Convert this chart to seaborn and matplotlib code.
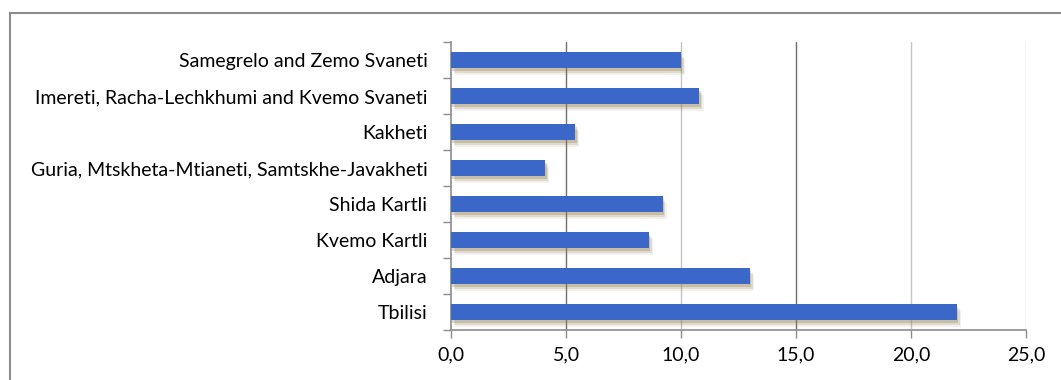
import matplotlib
matplotlib.use("Agg")
import matplotlib.pyplot as plt
import matplotlib.patheffects as pe
import seaborn as sns
import pandas as pd

regions = [
    "Samegrelo and Zemo Svaneti",
    "Imereti, Racha-Lechkhumi and Kvemo Svaneti",
    "Kakheti",
    "Guria, Mtskheta-Mtianeti, Samtskhe-Javakheti",
    "Shida Kartli",
    "Kvemo Kartli",
    "Adjara",
    "Tbilisi",
]
values = [10.0, 10.8, 5.4, 4.1, 9.2, 8.6, 13.0, 22.0]
x_ticks = [0, 5, 10, 15, 20, 25]
x_labels = ["0,0", "5,0", "10,0", "15,0", "20,0", "25,0"]

df = pd.DataFrame({"region": regions, "value": values})

sns.set_theme(style="white")
plt.rcParams["font.family"] = ["Lato", "DejaVu Sans"]

fig = plt.figure(figsize=(10.61, 3.80), dpi=100)
ax = fig.add_axes([451 / 1061, 1 - 330 / 380, (1026 - 451) / 1061, (330 - 42) / 380])

sns.barplot(data=df, x="value", y="region", orient="h", color="#3b67c9",
            width=0.45, saturation=1, ax=ax, zorder=3)

# soft drop shadow under each bar
shadow = [pe.SimplePatchShadow(offset=(dx, dy), shadow_rgbFace="#8f7f50", alpha=a)
          for dx, dy, a in [(1, -2, 0.30), (2, -3.5, 0.20), (3, -5, 0.10)]]
for bar in ax.patches:
    bar.set_linewidth(0)
    bar.set_path_effects(shadow + [pe.Normal()])

ax.set_xlim(0, 25)
ax.set_ylim(len(regions) - 0.5, -0.5)
ax.set_xticks(x_ticks)
ax.set_xticklabels(x_labels)
ax.set_xlabel("")
ax.set_ylabel("")

# vertical gridlines
grid_colors = {5: "#6e6e6e", 10: "#c4c4c4", 15: "#6e6e6e", 20: "#c4c4c4", 25: "#c4c4c4"}
for xv, c in grid_colors.items():
    ax.axvline(xv, color=c, lw=1, zorder=1)

for side in ["top", "right"]:
    ax.spines[side].set_visible(False)
for side in ["left", "bottom"]:
    ax.spines[side].set_color("#8c8c8c")
    ax.spines[side].set_linewidth(1.2)

# category boundary ticks on the y axis
ax.set_yticks(range(len(regions)))
ax.set_yticklabels(regions)
ax.set_yticks([i - 0.5 for i in range(len(regions) + 1)], minor=True)
ax.tick_params(axis="y", which="major", length=0, pad=17, labelsize=14, labelcolor="#000000")
ax.tick_params(axis="y", which="minor", length=6, color="#8c8c8c", width=1, left=True)
ax.tick_params(axis="x", which="major", length=6, color="#8c8c8c", width=1, bottom=True,
               labelsize=14, labelcolor="#000000", pad=6)

# chart frame
fig.patches.append(plt.Rectangle((10 / 1061, -0.1), 1.2, 1 - 13 / 380 + 0.1,
                                 transform=fig.transFigure, fill=False,
                                 edgecolor="#8c8c8c", linewidth=1.5))

fig.savefig("out.png", dpi=100, facecolor="white")
